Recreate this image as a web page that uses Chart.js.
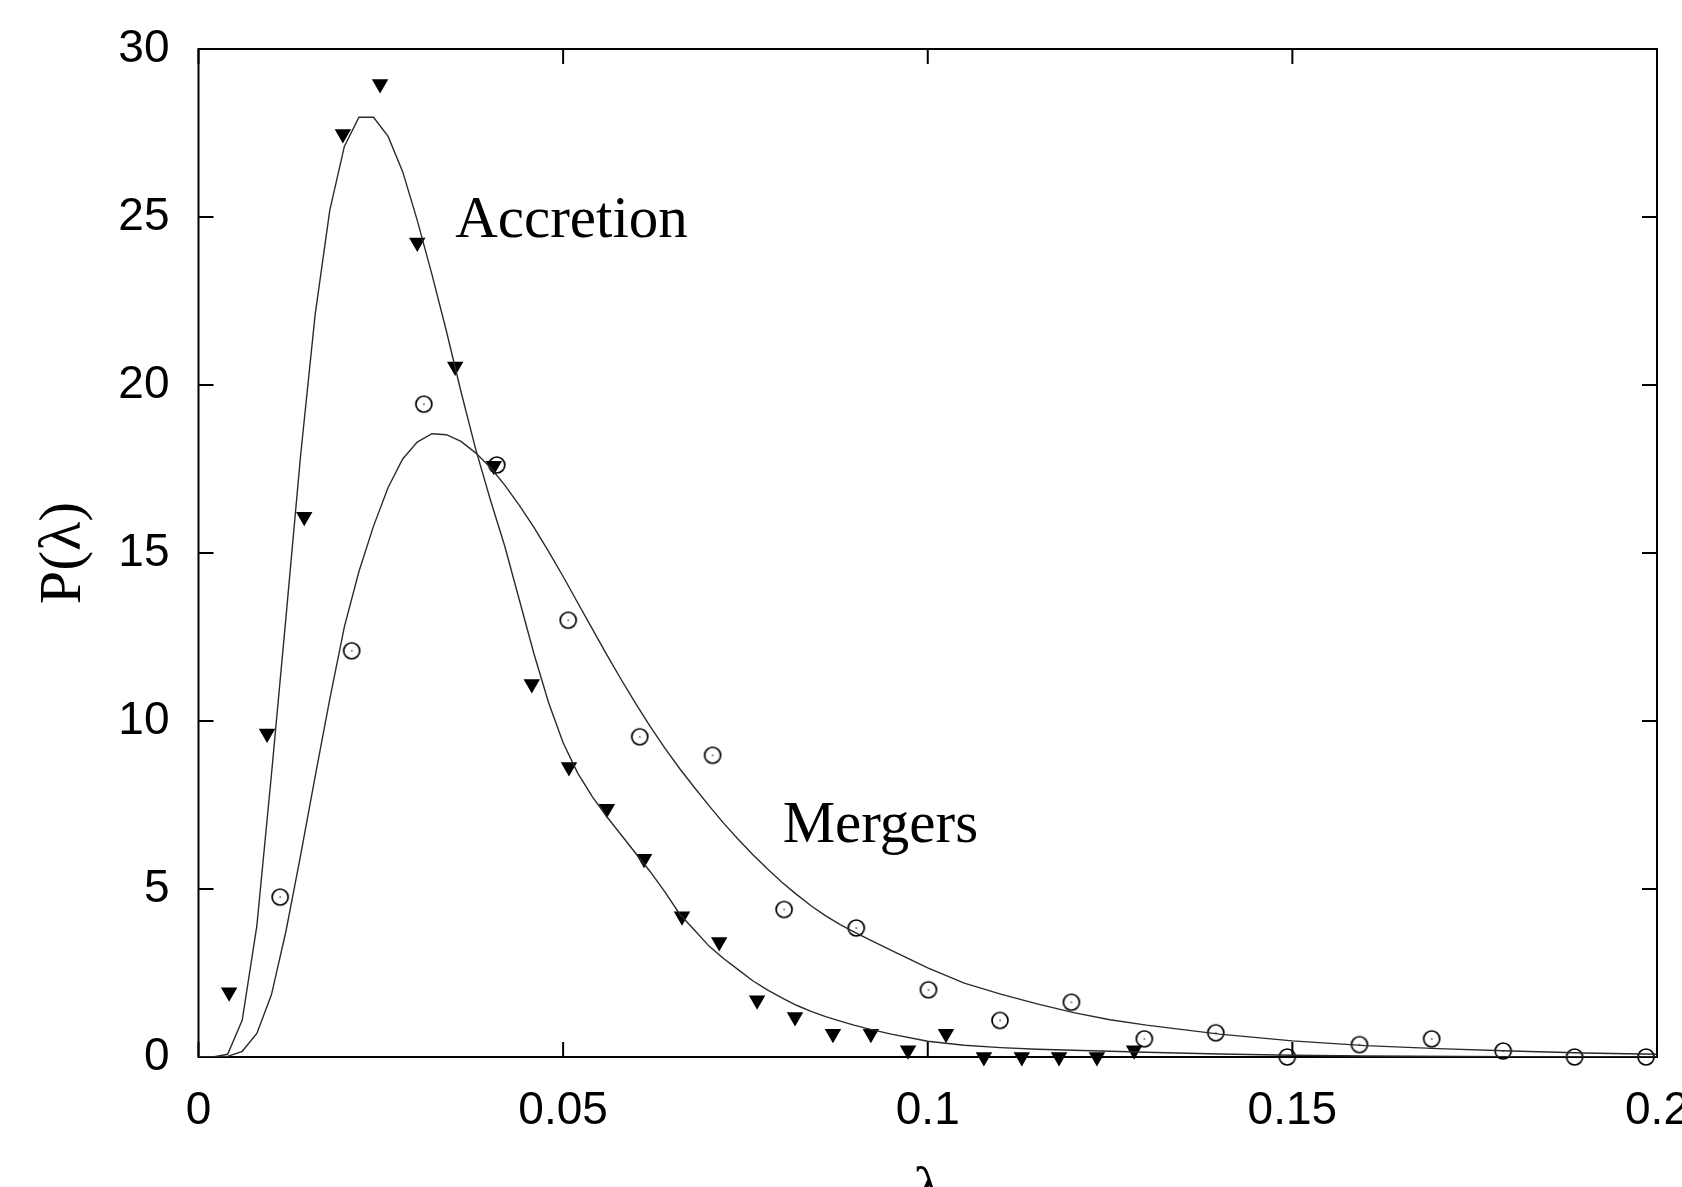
<!DOCTYPE html>
<html>
<head>
<meta charset="utf-8">
<title>P(lambda)</title>
<script src="https://cdn.jsdelivr.net/npm/chart.js@4.4.1/dist/chart.umd.min.js"></script>
<style>
  html, body { margin: 0; padding: 0; background: #fff; overflow: hidden; }
  canvas { display: block; }
</style>
</head>
<body>
<canvas id="myChart" width="1682" height="1187"></canvas>
<script>
// точки: аккреция (треугольники)
const accretionX = [0.0042, 0.0094, 0.0145, 0.0198, 0.0249, 0.0300, 0.0352, 0.0405, 0.0457, 0.0508, 0.0560, 0.0611, 0.0663, 0.0714, 0.0766, 0.0818, 0.0870, 0.0922, 0.0973, 0.1025, 0.1077, 0.1129, 0.1180, 0.1232, 0.1283]
const accretionY = [1.93, 9.63, 16.08, 27.47, 28.96, 24.24, 20.55, 17.6, 11.1, 8.63, 7.39, 5.9, 4.19, 3.42, 1.69, 1.19, 0.69, 0.69, 0.2, 0.69, 0, 0, 0, 0, 0.2]

// точки: слияния (кружки)
const mergersX = [0.0112, 0.0210, 0.0309, 0.0409, 0.0507, 0.0605, 0.0705, 0.0803, 0.0902, 0.1001, 0.1099, 0.1197, 0.1297, 0.1395, 0.1493, 0.1592, 0.1691, 0.1789, 0.1887, 0.1985]
const mergersY = [4.76, 12.09, 19.43, 17.62, 13.0, 9.53, 8.98, 4.39, 3.84, 2.0, 1.09, 1.63, 0.54, 0.72, 0, 0.37, 0.54, 0.18, 0, 0]

// кривые подгонки
const accretionFitX = [0, 0.002, 0.004, 0.006, 0.008, 0.010, 0.012, 0.014, 0.016, 0.018, 0.020, 0.022, 0.024, 0.026, 0.028, 0.030, 0.032, 0.034, 0.036, 0.038, 0.040, 0.042, 0.044, 0.046, 0.048, 0.050, 0.052, 0.054, 0.056, 0.058, 0.060, 0.062, 0.064, 0.066, 0.068, 0.070, 0.072, 0.074, 0.076, 0.078, 0.080, 0.082, 0.084, 0.086, 0.088, 0.090, 0.092, 0.095, 0.100, 0.105, 0.110, 0.115, 0.120, 0.125, 0.130, 0.140, 0.150, 0.160, 0.180, 0.200]
const accretionFitY = [0, 0, 0.08, 1.1, 3.9, 8.4, 13.1, 17.9, 22.1, 25.2, 27.1, 27.97, 27.97, 27.4, 26.35, 24.9, 23.3, 21.6, 19.8, 18.1, 16.6, 15.2, 13.6, 12.0, 10.55, 9.35, 8.45, 7.75, 7.15, 6.6, 6.05, 5.5, 4.9, 4.25, 3.78, 3.3, 2.93, 2.6, 2.27, 2.0, 1.76, 1.54, 1.36, 1.2, 1.07, 0.94, 0.83, 0.68, 0.47, 0.35, 0.28, 0.23, 0.2, 0.17, 0.14, 0.09, 0.05, 0.03, 0.01, 0]

const mergersFitX = [0, 0.002, 0.004, 0.006, 0.008, 0.010, 0.012, 0.014, 0.016, 0.018, 0.020, 0.022, 0.024, 0.026, 0.028, 0.030, 0.032, 0.034, 0.036, 0.038, 0.040, 0.042, 0.044, 0.046, 0.048, 0.050, 0.052, 0.054, 0.056, 0.058, 0.060, 0.062, 0.064, 0.066, 0.068, 0.070, 0.072, 0.074, 0.076, 0.078, 0.080, 0.082, 0.084, 0.086, 0.088, 0.090, 0.092, 0.095, 0.100, 0.105, 0.110, 0.115, 0.120, 0.125, 0.130, 0.140, 0.150, 0.160, 0.170, 0.180, 0.190, 0.200]
const mergersFitY = [0, 0, 0.02, 0.17, 0.7, 1.85, 3.75, 6.0, 8.35, 10.65, 12.8, 14.45, 15.8, 16.95, 17.8, 18.3, 18.55, 18.52, 18.32, 17.98, 17.55, 17.02, 16.42, 15.76, 15.05, 14.3, 13.52, 12.74, 11.97, 11.22, 10.5, 9.82, 9.18, 8.58, 8.02, 7.48, 6.96, 6.48, 6.03, 5.6, 5.2, 4.84, 4.5, 4.2, 3.94, 3.71, 3.49, 3.17, 2.65, 2.2, 1.87, 1.58, 1.32, 1.11, 0.95, 0.68, 0.48, 0.34, 0.25, 0.18, 0.12, 0.08]

// подписи делений
const xTicks = [0, 0.05, 0.1, 0.15, 0.2]
const xTickLabels = ['0', '0.05', '0.1', '0.15', '0.2']
const yTicks = [0, 5, 10, 15, 20, 25, 30]
const yTickLabels = ['0', '5', '10', '15', '20', '25', '30']

// надписи на графике (координаты в единицах осей)
const curveNames = ['Accretion', 'Mergers']
const curveNameX = [0.0352, 0.0801]
const curveNameY = [24.41, 6.40]

const toPoints = (xs, ys) => xs.map((x, i) => ({ x: x, y: ys[i] }))

// кружок с точкой в центре
const circleDot = document.createElement('canvas')
circleDot.width = 22
circleDot.height = 22
const c2 = circleDot.getContext('2d')
c2.strokeStyle = '#000'
c2.lineWidth = 1.7
c2.beginPath()
c2.arc(11, 11, 8, 0, Math.PI * 2)
c2.stroke()
c2.fillStyle = '#000'
c2.fillRect(10.4, 10.4, 1.3, 1.3)

const serif = '"Liberation Serif", "Times New Roman", serif'
const sans = '"Liberation Sans", Arial, sans-serif'

// рамка, внутренние засечки и подписи кривых
const framePlugin = {
  id: 'frame',
  beforeDatasetsDraw(chart) {
    const { ctx, chartArea: a, scales } = chart
    const t = 15
    ctx.save()
    ctx.strokeStyle = '#000'
    ctx.lineWidth = 2
    ctx.strokeRect(a.left, a.top, a.right - a.left, a.bottom - a.top)
    ctx.beginPath()
    xTicks.forEach(v => {
      const px = scales.x.getPixelForValue(v)
      ctx.moveTo(px, a.bottom); ctx.lineTo(px, a.bottom - t)
      ctx.moveTo(px, a.top); ctx.lineTo(px, a.top + t)
    })
    yTicks.forEach(v => {
      const py = scales.y.getPixelForValue(v)
      ctx.moveTo(a.left, py); ctx.lineTo(a.left + t, py)
      ctx.moveTo(a.right, py); ctx.lineTo(a.right - t, py)
    })
    ctx.stroke()
    ctx.restore()
  },
  afterDatasetsDraw(chart) {
    const { ctx, scales } = chart
    ctx.save()
    ctx.fillStyle = '#000'
    ctx.font = '59px ' + serif
    ctx.textAlign = 'left'
    ctx.textBaseline = 'alphabetic'
    curveNames.forEach((name, i) => {
      ctx.fillText(name, scales.x.getPixelForValue(curveNameX[i]), scales.y.getPixelForValue(curveNameY[i]))
    })
    ctx.restore()
  }
}

const ctx = document.getElementById('myChart')
const myChart = new Chart(ctx, {
  type: 'scatter',
  data: {
    datasets: [
      {
        label: 'Accretion fit',
        data: toPoints(accretionFitX, accretionFitY),
        showLine: true,
        borderColor: '#2b2b2b',
        borderWidth: 1.4,
        pointRadius: 0,
        tension: 0
      },
      {
        label: 'Mergers fit',
        data: toPoints(mergersFitX, mergersFitY),
        showLine: true,
        borderColor: '#2b2b2b',
        borderWidth: 1.4,
        pointRadius: 0,
        tension: 0
      },
      {
        label: 'Accretion',
        data: toPoints(accretionX, accretionY),
        pointStyle: 'triangle',
        pointRotation: 180,
        pointRadius: 9.5,
        pointBackgroundColor: '#000',
        pointBorderColor: '#000',
        pointBorderWidth: 0,
        clip: false
      },
      {
        label: 'Mergers',
        data: toPoints(mergersX, mergersY),
        pointStyle: circleDot,
        pointRadius: 8,
        clip: false
      }
    ]
  },
  options: {
    responsive: false,
    animation: false,
    devicePixelRatio: 1,
    layout: { padding: { left: 0, right: 25, top: 49, bottom: 0 } },
    plugins: { legend: { display: false }, tooltip: { enabled: false } },
    scales: {
      x: {
        type: 'linear',
        min: 0,
        max: 0.2,
        grid: { display: false, drawTicks: false },
        border: { display: false },
        afterBuildTicks: s => { s.ticks = xTicks.map(v => ({ value: v })) },
        ticks: {
          padding: 27,
          color: '#000',
          font: { family: sans, size: 46 },
          maxRotation: 0,
          autoSkip: false,
          callback: (v, i) => xTickLabels[i]
        },
        title: {
          display: true,
          text: 'λ',
          color: '#000',
          font: { family: serif, size: 60, lineHeight: 0.1 },
          padding: { top: 0, bottom: -8 }
        },
        afterFit: s => { s.height = 130; s.paddingLeft = 0; s.paddingRight = 0 }
      },
      y: {
        type: 'linear',
        min: 0,
        max: 30,
        grid: { display: false, drawTicks: false },
        border: { display: false },
        afterBuildTicks: s => { s.ticks = yTicks.map(v => ({ value: v })) },
        ticks: {
          padding: 29,
          color: '#000',
          font: { family: sans, size: 46 },
          autoSkip: false,
          callback: (v, i) => yTickLabels[i]
        },
        title: {
          display: true,
          text: 'P(λ)',
          color: '#000',
          font: { family: serif, size: 60, lineHeight: 1.2 },
          padding: { top: 28, bottom: 0 }
        },
        afterFit: s => { s.width = 198.5; s.paddingTop = 0; s.paddingBottom = 0 }
      }
    }
  },
  plugins: [framePlugin]
})
</script>
</body>
</html>
